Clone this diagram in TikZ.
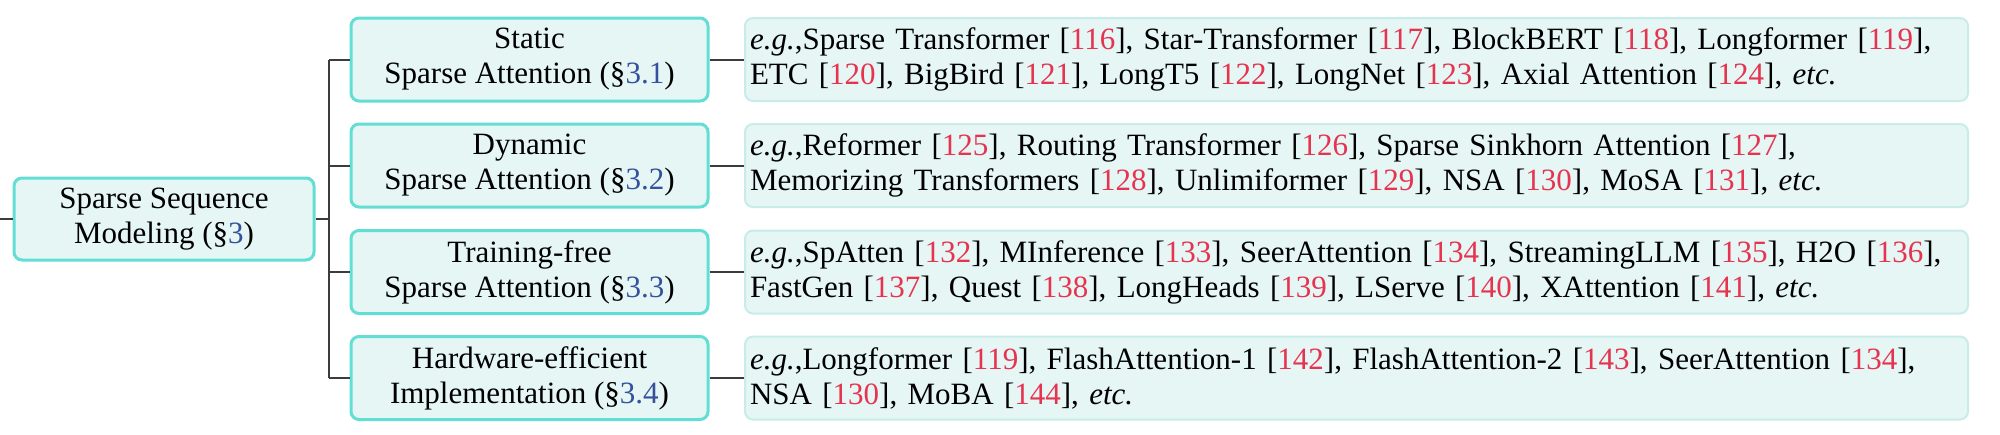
\documentclass[tikz,border=0pt]{standalone}
\usepackage{fontspec}
\setmainfont{Liberation Serif}
\usepackage{xcolor}
\definecolor{catline}{RGB}{98,222,212}
\definecolor{leafline}{RGB}{200,236,233}
\definecolor{boxfill}{RGB}{229,246,245}
\definecolor{refred}{RGB}{230,52,80}
\definecolor{secblue}{RGB}{52,82,155}
\definecolor{treeline}{RGB}{60,60,60}
\newcommand{\rf}[1]{[\textcolor{refred}{#1}]}
\newcommand{\sect}[1]{(\S\textcolor{secblue}{#1})}
\newcommand{\egs}{\textit{e.g.},}
\newcommand{\etcs}{\textit{etc.}}
\tikzset{
  catbox/.style={draw=catline, line width=1.5pt, fill=boxfill, rounded corners=4pt,
    minimum width=178.5pt, minimum height=41.5pt, align=center, inner sep=1pt,
    font=\fontsize{15.5}{17.5}\selectfont},
  leafbox/.style={draw=leafline, line width=1pt, fill=boxfill, rounded corners=4pt,
    text width=606.5pt, minimum height=41.5pt, align=left, inner xsep=2.5pt, inner ysep=1pt,
    font=\fontsize{15.5}{17.5}\selectfont},
  treeedge/.style={draw=treeline, line width=1pt}
}
\begin{document}
\begin{tikzpicture}[x=0.5pt,y=0.5pt,yscale=-1,xscale=1]
\useasboundingbox (0,0) rectangle (2000,434);

% Root Node
\node [catbox, minimum width=150pt, minimum height=41pt] (root) at (164,219) {Sparse Sequence\\Modeling \sect{3}};

% Category Nodes
\node [catbox] (cat1) at (529.5,59.5) {Static\\Sparse Attention \sect{3.1}};
\node [catbox] (cat2) at (529.5,165.5) {Dynamic\\Sparse Attention \sect{3.2}};
\node [catbox] (cat3) at (529.5,272) {Training-free\\Sparse Attention \sect{3.3}};
\node [catbox] (cat4) at (529.5,378) {Hardware-efficient\\Implementation \sect{3.4}};

% Leaf Nodes
\node [leafbox] (leaf1) at (1356.5,59.5) {\egs Sparse Transformer \rf{116}, Star-Transformer \rf{117}, BlockBERT \rf{118}, Longformer \rf{119},\\ETC \rf{120}, BigBird \rf{121}, LongT5 \rf{122}, LongNet \rf{123}, Axial Attention \rf{124}, \etcs};
\node [leafbox] (leaf2) at (1356.5,165.5) {\egs Reformer \rf{125}, Routing Transformer \rf{126}, Sparse Sinkhorn Attention \rf{127},\\Memorizing Transformers \rf{128}, Unlimiformer \rf{129}, NSA \rf{130}, MoSA \rf{131}, \etcs};
\node [leafbox] (leaf3) at (1356.5,272) {\egs SpAtten \rf{132}, MInference \rf{133}, SeerAttention \rf{134}, StreamingLLM \rf{135}, H2O \rf{136},\\FastGen \rf{137}, Quest \rf{138}, LongHeads \rf{139}, LServe \rf{140}, XAttention \rf{141}, \etcs};
\node [leafbox] (leaf4) at (1356.5,378) {\egs Longformer \rf{119}, FlashAttention-1 \rf{142}, FlashAttention-2 \rf{143}, SeerAttention \rf{134},\\NSA \rf{130}, MoBA \rf{144}, \etcs};

% Straight Lines
\coordinate (stub) at (0,219);
\coordinate (trunk) at (329,219);
\draw [treeedge] (stub) -- (root.west);
\draw [treeedge] (root.east) -- (trunk);
\draw [treeedge] (trunk |- cat1.west) -- (trunk |- cat4.west);
\foreach \i in {1,...,4}{
  \draw [treeedge] (trunk |- cat\i.west) -- (cat\i.west);
  \draw [treeedge] (cat\i.east) -- (leaf\i.west);
}

\end{tikzpicture}
\end{document}
